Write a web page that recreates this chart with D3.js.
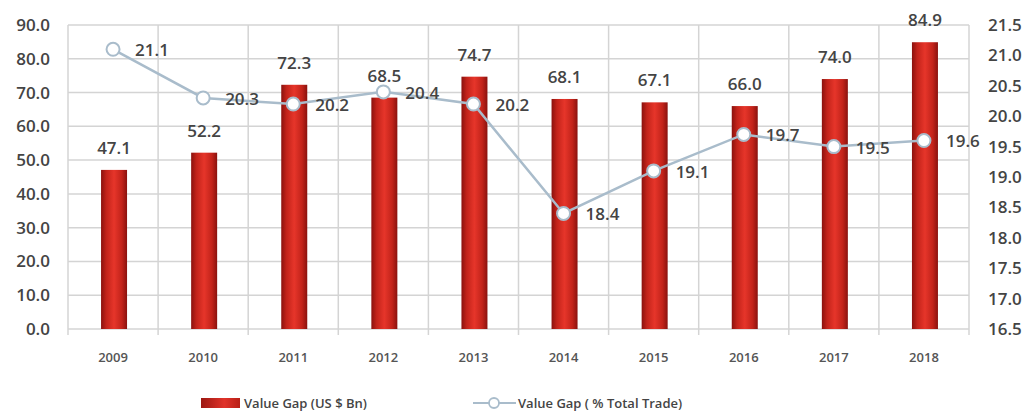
<!DOCTYPE html>
<html><head><meta charset="utf-8">
<script src="https://cdn.jsdelivr.net/npm/d3@7"></script>
<style>body{margin:0;background:#fff}svg{display:block}text{font-family:"Open Sans",sans-serif}</style>
</head><body><svg id="c" width="1031" height="412"></svg>
<script>
const years = ["2009","2010","2011","2012","2013","2014","2015","2016","2017","2018"];
const gapValue = [47.1, 52.2, 72.3, 68.5, 74.7, 68.1, 67.1, 66.0, 74.0, 84.9];
const gapPct = [21.1, 20.3, 20.2, 20.4, 20.2, 18.4, 19.1, 19.7, 19.5, 19.6];
const leftTicks = [0,10,20,30,40,50,60,70,80,90];
const rightTicks = [16.5,17.0,17.5,18.0,18.5,19.0,19.5,20.0,20.5,21.0,21.5];
const legendLabels = ["Value Gap (US $ Bn)", "Value Gap ( % Total Trade)"];

const svg = d3.select("#c");
const L = 68, R = 969, T = 25, B = 329;
const x = d3.scaleBand().domain(years).range([L, R]).paddingInner(0).paddingOuter(0);
const yL = d3.scaleLinear().domain([0, 90]).range([B, T]);
const yR = d3.scaleLinear().domain([16.5, 21.5]).range([B, T]);

const defs = svg.append("defs");
const g = defs.append("linearGradient").attr("id","barG").attr("x1","0").attr("x2","1").attr("y1","0").attr("y2","0");
g.append("stop").attr("offset","0%").attr("stop-color","#8a120e");
g.append("stop").attr("offset","20%").attr("stop-color","#c2231a");
g.append("stop").attr("offset","50%").attr("stop-color","#e6352a");
g.append("stop").attr("offset","80%").attr("stop-color","#c2231a");
g.append("stop").attr("offset","100%").attr("stop-color","#8a120e");
const lg = defs.append("linearGradient").attr("id","legG").attr("x1","0").attr("x2","1").attr("y1","0").attr("y2","0");
lg.append("stop").attr("offset","0%").attr("stop-color","#9c1812");
lg.append("stop").attr("offset","60%").attr("stop-color","#e0332a");
lg.append("stop").attr("offset","100%").attr("stop-color","#b81f17");

const gridC = "#d4d4d4";
const txtC = "#444";
svg.append("g").selectAll("line").data(leftTicks).join("line")
  .attr("x1", L).attr("x2", R).attr("y1", d => yL(d)).attr("y2", d => yL(d))
  .attr("stroke", gridC).attr("stroke-width", 1.5);
const bounds = years.map(d => x(d)).concat([R]);
svg.append("g").selectAll("line").data(bounds).join("line")
  .attr("x1", d => d).attr("x2", d => d).attr("y1", T).attr("y2", B + 6)
  .attr("stroke", gridC).attr("stroke-width", 1.5);

svg.append("g").selectAll("text").data(leftTicks).join("text")
  .attr("x", 50).attr("y", d => yL(d)).attr("dy","0.35em").attr("text-anchor","end")
  .attr("font-size", 17).attr("font-weight", 600).attr("fill", txtC).text(d => d.toFixed(1));
svg.append("g").selectAll("text").data(rightTicks).join("text")
  .attr("x", 988).attr("y", d => yR(d)).attr("dy","0.35em").attr("text-anchor","start")
  .attr("font-size", 17).attr("font-weight", 600).attr("fill", txtC).text(d => d.toFixed(1));
svg.append("g").selectAll("text").data(years).join("text")
  .attr("x", d => x(d) + x.bandwidth()/2).attr("y", 357).attr("dy","0.35em").attr("text-anchor","middle")
  .attr("font-size", 13).attr("font-weight", 600).attr("fill","#555").text(d => d);

const bw = 26;
svg.append("g").selectAll("rect").data(years).join("rect")
  .attr("x", d => x(d) + x.bandwidth()/2 - bw/2 + 1).attr("width", bw)
  .attr("y", (d,i) => yL(gapValue[i])).attr("height", (d,i) => B - yL(gapValue[i]))
  .attr("fill","url(#barG)");
svg.append("g").selectAll("text").data(years).join("text")
  .attr("x", d => x(d) + x.bandwidth()/2 + 1).attr("y", (d,i) => yL(gapValue[i]) - 22).attr("dy","0.35em")
  .attr("text-anchor","middle").attr("font-size", 17).attr("font-weight", 600).attr("fill", txtC).text((d,i) => gapValue[i].toFixed(1));

const lineC = "#a9bccb";
const line = d3.line().x((d,i) => x(years[i]) + x.bandwidth()/2).y(d => yR(d));
svg.append("path").datum(gapPct).attr("d", line).attr("fill","none").attr("stroke", lineC).attr("stroke-width", 2.5);
svg.append("g").selectAll("text").data(gapPct).join("text")
  .attr("x", (d,i) => x(years[i]) + x.bandwidth()/2 + 22).attr("y", d => yR(d) + 1).attr("dy","0.35em")
  .attr("text-anchor","start").attr("font-size", 17).attr("font-weight", 600).attr("fill", txtC).text(d => d.toFixed(1));
svg.append("g").selectAll("circle").data(gapPct).join("circle")
  .attr("cx", (d,i) => x(years[i]) + x.bandwidth()/2).attr("cy", d => yR(d)).attr("r", 6.5)
  .attr("fill","#fff").attr("stroke", lineC).attr("stroke-width", 2);

const lgG = svg.append("g");
lgG.append("rect").attr("x", 201).attr("y", 398).attr("width", 39).attr("height", 10).attr("fill","url(#legG)");
lgG.append("text").attr("x", 244).attr("y", 403).attr("dy","0.35em").attr("font-size", 13).attr("font-weight", 600).attr("fill", txtC).text(legendLabels[0]);
lgG.append("line").attr("x1", 473).attr("x2", 516).attr("y1", 403).attr("y2", 403).attr("stroke", lineC).attr("stroke-width", 2);
lgG.append("circle").attr("cx", 494).attr("cy", 403).attr("r", 5).attr("fill","#fff").attr("stroke", lineC).attr("stroke-width", 1.8);
lgG.append("text").attr("x", 518).attr("y", 403).attr("dy","0.35em").attr("font-size", 13).attr("font-weight", 600).attr("fill", txtC).text(legendLabels[1]);
</script></body></html>
